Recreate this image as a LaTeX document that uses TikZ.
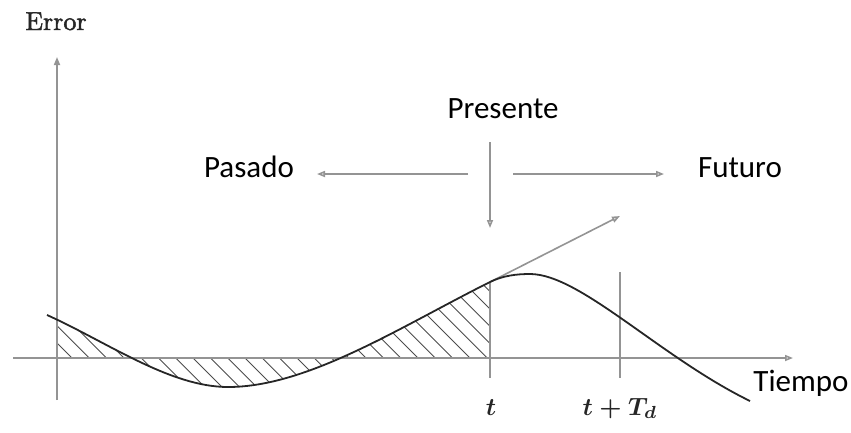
\documentclass[tikz,border=0pt]{standalone}
\usepackage{fontspec}
\newfontfamily\labelfont{Carlito}
\newfontfamily\serfont{Latin Modern Roman}[FakeBold=1.6]
\usetikzlibrary{arrows.meta}
\begin{document}
\begin{tikzpicture}[x=1pt,y=-1pt,
  axis/.style={draw=black!42,line width=1.6pt},
  garrow/.style={draw=black!42,line width=1.6pt,-{Triangle[open,length=8pt,width=6pt]}},
  curve/.style={draw=black!85,line width=1.8pt},
  hatch/.style={draw=black!70,line width=0.9pt},
  sanslabel/.style={font=\labelfont\fontsize{31}{36}\selectfont,inner sep=0pt,anchor=base},
  serlabel/.style={inner sep=0pt,anchor=base,text=black!85}]
\useasboundingbox (0,0) rectangle (851,432);
% coordinates
\coordinate (yb) at (57,400);
\coordinate (yt) at (57,57);
\coordinate (xl) at (13,358);
\coordinate (xr) at (793,358);
\coordinate (pt) at (490,282);
\coordinate (pb) at (490,378);
\coordinate (tangentend) at (620,216);
\coordinate (tdt) at (620,272);
\coordinate (tdb) at (620,378);
\coordinate (vt) at (490,142);
\coordinate (vb) at (490,228);
\coordinate (ls) at (468,174);
\coordinate (le) at (317,174);
\coordinate (rs) at (513,174);
\coordinate (re) at (664,174);
% hatching
\begin{scope}
\clip (57,200) rectangle (490,420);
\clip (47,315) .. controls (107,342) and (170,387) .. (228,387)
   .. controls (308,387) and (400,327) .. (490,282) -- (490,358) -- (47,358) -- cycle;
\foreach \k in {-12,...,30} {
  \draw[hatch] ({72+17.3*\k-120},238) -- ({72+17.3*\k+120},478);
}
\end{scope}
% axes
\draw[axis,-{Triangle[length=8pt,width=6pt]}] (yb) -- (yt);
\draw[axis,-{Triangle[open,length=8pt,width=6pt]}] (xl) -- (xr);
% vertical marks
\draw[axis] (pt) -- (pb);
\draw[axis] (tdt) -- (tdb);
% tangent
\draw[garrow] (pt) -- (tangentend);
% curve
\draw[curve] (47,315) .. controls (107,342) and (170,387) .. (228,387)
   .. controls (308,387) and (400,327) .. (490,282)
   .. controls (503,275.5) and (517,274) .. (530,274)
   .. controls (580,274) and (660,357) .. (750,401);
% top arrows
\draw[garrow] (vt) -- (vb);
\draw[garrow] (ls) -- (le);
\draw[garrow] (rs) -- (re);
% labels
\node[serlabel] (error) at (56,30) {\scalebox{2.6}{\serfont Error}};
\node[sanslabel] (pasado) at (249,177) {Pasado};
\node[sanslabel] (presente) at (503,118) {Presente};
\node[sanslabel] (futuro) at (740,177) {Futuro};
\node[sanslabel] (tiempo) at (801,391) {Tiempo};
\node[serlabel] (tl) at (491,415) {\scalebox{2.5}{\boldmath$t$}};
\node[serlabel] (tdl) at (620,415) {\scalebox{2.5}{\boldmath$t+T_d$}};
\end{tikzpicture}
\end{document}
